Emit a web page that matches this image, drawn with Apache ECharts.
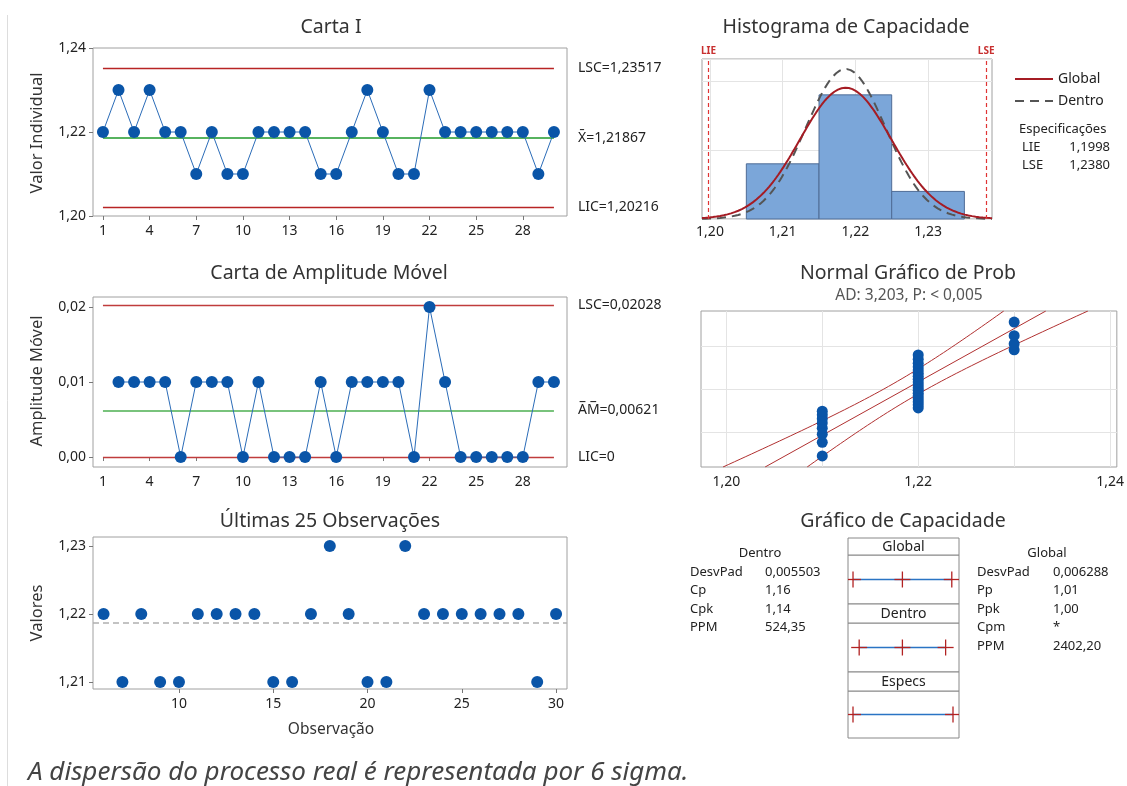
<!DOCTYPE html>
<html><head><meta charset="utf-8">
<script src="https://cdn.jsdelivr.net/npm/echarts@6/dist/echarts.min.js"></script>
<style>html,body{margin:0;padding:0;background:#fff}#c{width:1127px;height:786px}</style>
</head><body><div id="c"></div>
<script>
// ---------------- DATA ----------------
const observations = [1,2,3,4,5,6,7,8,9,10,11,12,13,14,15,16,17,18,19,20,21,22,23,24,25,26,27,28,29,30];
const individualValues = [1.22,1.23,1.22,1.23,1.22,1.22,1.21,1.22,1.21,1.21,1.22,1.22,1.22,1.22,1.21,1.21,1.22,1.23,1.22,1.21,1.21,1.23,1.22,1.22,1.22,1.22,1.22,1.22,1.21,1.22];
const movingRanges = [0.01,0.01,0.01,0.01,0,0.01,0.01,0.01,0,0.01,0,0,0,0.01,0,0.01,0.01,0.01,0.01,0,0.02,0.01,0,0,0,0,0,0.01,0.01]; // obs 2..30
const iLimits = {LSC:1.23517, mean:1.21867, LIC:1.20216};
const mrLimits = {LSC:0.02028, mean:0.00621, LIC:0};
const specLIE = 1.1998, specLSE = 1.2380;
const sigmaWithin = 0.005503, sigmaOverall = 0.006288, nObs = 30;
const binStarts = [1.205,1.215,1.225];
const binEnds = [1.215,1.225,1.235];
const binCounts = [8,18,4];
const normalScores = [-1.995,-1.590,-1.348,-1.167,-1.017,-0.887,-0.771,-0.664,-0.565,-0.470,-0.380,-0.293,-0.207,-0.124,-0.041,0.041,0.124,0.207,0.293,0.380,0.470,0.565,0.664,0.771,0.887,1.017,1.167,1.348,1.590,1.995];
const iTicks = [1,4,7,10,13,16,19,22,25,28];
const last25Ticks = [10,15,20,25,30];
const withinStats = [['DesvPad','0,005503'],['Cp','1,16'],['Cpk','1,14'],['PPM','524,35']];
const overallStats = [['DesvPad','0,006288'],['Pp','1,01'],['Ppk','1,00'],['Cpm','*'],['PPM','2402,20']];

// ---------------- STYLE ----------------
const FONT = "'Noto Sans','Open Sans',sans-serif";
const DOT = '#0a55a8', LINEB = '#2b6cb8', RED = '#b82424', GREEN = '#1f9a2a', BORDER = '#a0a0a0', TXT = '#222';
const fmt2 = v => v.toFixed(2).replace('.', ',');

function txt(x, y, text, o) {
  o = o || {};
  return {type:'text', x:x, y:y, rotation:o.rot||0, silent:true,
    style:{text:text, fill:o.color||TXT, fontSize:o.size||13, fontFamily:FONT, fontStyle:o.style||'normal',
      fontWeight:o.weight||'normal', textAlign:o.align||'left', align:o.align||'left',
      textVerticalAlign:'middle', verticalAlign:'middle'}};
}

// derived series data
const iData = observations.map((o,i)=>[o, individualValues[i]]);
const mrData = movingRanges.map((v,i)=>[observations[i+1], v]);
const last25 = iData.slice(5);
const sortedVals = individualValues.slice().sort((a,b)=>a-b);
const probData = sortedVals.map((v,i)=>[v, normalScores[i]]);
const histBars = binStarts.map((s,i)=>[s, binEnds[i], binCounts[i]]);

const hxMin = 1.1989, hxMax = 1.2388, hyMax = 23.2;
const l25Min = 5.44, l25Max = 30.58;
function normCurve(sigma){
  const pts = [];
  for (let k=0;k<=160;k++){
    const x = hxMin + (hxMax-hxMin)*k/160;
    const d = Math.exp(-0.5*Math.pow((x-iLimits.mean)/sigma,2))/(sigma*Math.sqrt(2*Math.PI));
    pts.push([x, d*nObs*0.01]);
  }
  return pts;
}
const zEdge = 2.3263;
const fitLine = [[iLimits.mean - zEdge*sigmaOverall, -zEdge],[iLimits.mean + zEdge*sigmaOverall, zEdge]];
function band(sign){
  const pts=[];
  for (let k=0;k<=60;k++){
    const z = -zEdge + 2*zEdge*k/60;
    const se = sigmaOverall*Math.sqrt(1/nObs + z*z/(2*(nObs-1)));
    pts.push([iLimits.mean + z*sigmaOverall + sign*1.96*se, z]);
  }
  return pts;
}
const capRows = [
  [iLimits.mean-3*sigmaOverall, iLimits.mean, iLimits.mean+3*sigmaOverall, 1],
  [iLimits.mean-3*sigmaWithin, iLimits.mean, iLimits.mean+3*sigmaWithin, 1],
  [specLIE, (specLIE+specLSE)/2, specLSE, 0]
];

function capItem(params, api){
  const cs = params.coordSys;
  const lo = api.coord([api.value(0), 0.5]), hi = api.coord([api.value(2), 0.5]);
  const els = [{type:'line', shape:{x1:lo[0],y1:lo[1],x2:hi[0],y2:hi[1]}, style:{stroke:'#2a74c4', lineWidth:1.5}}];
  const vals = [api.value(0), api.value(2)];
  if (api.value(3) === 1) vals.push(api.value(1));
  vals.forEach(v=>{
    const p = api.coord([v,0.5]);
    els.push({type:'line', shape:{x1:Math.max(cs.x,p[0]-8), y1:p[1], x2:Math.min(cs.x+cs.width,p[0]+8), y2:p[1]}, style:{stroke:'#b22222', lineWidth:1.3}});
    els.push({type:'line', shape:{x1:p[0], y1:p[1]-8, x2:p[0], y2:p[1]+8}, style:{stroke:'#b22222', lineWidth:1.3}});
  });
  return {type:'group', children:els};
}

const axLabel = {color:TXT, fontSize:14, fontFamily:FONT};
const tick = {show:true, length:4, lineStyle:{color:'#777'}};
const noAxis = {show:false};

const mlLabel = (txtS) => ({show:true, position:'end', distance:24, formatter:txtS, color:TXT, fontSize:14, fontFamily:FONT, padding:[0,0,5,0]});

const option = {
  animation:false,
  backgroundColor:'#fff',
  textStyle:{fontFamily:FONT},
  legend:{data:['Global','Dentro'], orient:'vertical', left:1009, top:67, itemWidth:38, itemHeight:12, itemGap:8,
    itemStyle:{opacity:0},
    textStyle:{color:TXT, fontSize:14, fontFamily:FONT}, selectedMode:false},
  grid:[
    {left:93, top:48, width:474, height:168, show:true, borderColor:BORDER, borderWidth:1},
    {left:93, top:297, width:474, height:170, show:true, borderColor:BORDER, borderWidth:1},
    {left:93, top:537, width:474, height:152, show:true, borderColor:BORDER, borderWidth:1},
    {left:702, top:59, width:290, height:160, show:true, borderColor:BORDER, borderWidth:1},
    {left:701, top:311, width:416, height:156, show:true, borderColor:BORDER, borderWidth:1},
    {left:848, top:555, width:111, height:49, show:true, borderColor:'#888', borderWidth:1},
    {left:848, top:623, width:111, height:49, show:true, borderColor:'#888', borderWidth:1},
    {left:848, top:691, width:111, height:47, show:true, borderColor:'#888', borderWidth:1}
  ],
  xAxis:[
    {gridIndex:0, type:'value', min:0.36, max:30.84, axisLine:noAxis, splitLine:noAxis,
      axisTick:Object.assign({customValues:iTicks}, tick), axisLabel:Object.assign({customValues:iTicks, margin:8}, axLabel)},
    {gridIndex:1, type:'value', min:0.36, max:30.84, axisLine:noAxis, splitLine:noAxis,
      axisTick:Object.assign({customValues:iTicks}, tick), axisLabel:Object.assign({customValues:iTicks, margin:8}, axLabel)},
    {gridIndex:2, type:'value', min:l25Min, max:l25Max, axisLine:noAxis, splitLine:noAxis,
      axisTick:Object.assign({customValues:last25Ticks}, tick), axisLabel:Object.assign({customValues:last25Ticks, margin:8}, axLabel)},
    {gridIndex:3, type:'value', min:hxMin, max:hxMax, axisLine:noAxis,
      splitLine:{show:true, lineStyle:{color:'#e4e4e4'}},
      axisTick:{show:false, customValues:[1.20,1.21,1.22,1.23]},
      axisLabel:Object.assign({customValues:[1.20,1.21,1.22,1.23], margin:6, formatter:fmt2}, axLabel)},
    {gridIndex:4, type:'value', min:1.19736, max:1.2407, axisLine:noAxis,
      splitLine:{show:true, lineStyle:{color:'#e4e4e4'}},
      axisTick:{show:false, customValues:[1.20,1.21,1.22,1.23,1.24]},
      axisLabel:Object.assign({customValues:[1.20,1.22,1.24], margin:8, formatter:fmt2}, axLabel)},
    {gridIndex:5, type:'value', min:1.19789, max:1.24029, show:false},
    {gridIndex:6, type:'value', min:1.19789, max:1.24029, show:false},
    {gridIndex:7, type:'value', min:1.19789, max:1.24029, show:false}
  ],
  yAxis:[
    {gridIndex:0, type:'value', min:1.20, max:1.24, interval:0.02, axisLine:noAxis, splitLine:noAxis,
      axisTick:tick, axisLabel:Object.assign({margin:7, formatter:fmt2}, axLabel)},
    {gridIndex:1, type:'value', min:-0.00133, max:0.02133, axisLine:noAxis, splitLine:noAxis,
      axisTick:Object.assign({customValues:[0,0.01,0.02]}, tick),
      axisLabel:Object.assign({customValues:[0,0.01,0.02], margin:7, formatter:fmt2}, axLabel)},
    {gridIndex:2, type:'value', min:1.20897, max:1.23132, axisLine:noAxis, splitLine:noAxis,
      axisTick:Object.assign({customValues:[1.21,1.22,1.23]}, tick),
      axisLabel:Object.assign({customValues:[1.21,1.22,1.23], margin:7, formatter:fmt2}, axLabel)},
    {gridIndex:3, type:'value', min:0, max:hyMax, interval:10, axisLine:noAxis, axisTick:noAxis, axisLabel:noAxis,
      splitLine:{show:true, lineStyle:{color:'#e4e4e4'}}},
    {gridIndex:4, type:'value', min:-zEdge, max:zEdge, axisLine:noAxis, axisLabel:noAxis,
      axisTick:{show:false, customValues:[-1.2816,0,1.2816]},
      splitLine:{show:true, lineStyle:{color:'#e4e4e4'}}},
    {gridIndex:5, type:'value', min:0, max:1, show:false},
    {gridIndex:6, type:'value', min:0, max:1, show:false},
    {gridIndex:7, type:'value', min:0, max:1, show:false}
  ],
  series:[
    {type:'line', xAxisIndex:0, yAxisIndex:0, data:iData, symbol:'circle', symbolSize:12,
      itemStyle:{color:DOT, opacity:1}, lineStyle:{color:LINEB, width:1}, z:5,
      markLine:{silent:true, symbol:['none','none'], animation:false,
        data:[
          [{coord:[1,iLimits.LSC], lineStyle:{color:RED,width:1.3,type:'solid'}, label:mlLabel('LSC=1,23517')},{coord:[30,iLimits.LSC]}],
          [{coord:[1,iLimits.mean], lineStyle:{color:GREEN,width:1.5,type:'solid'}, label:mlLabel('X\u0304=1,21867')},{coord:[30,iLimits.mean]}],
          [{coord:[1,iLimits.LIC], lineStyle:{color:RED,width:1.3,type:'solid'}, label:mlLabel('LIC=1,20216')},{coord:[30,iLimits.LIC]}]
        ]}},
    {type:'line', xAxisIndex:1, yAxisIndex:1, data:mrData, symbol:'circle', symbolSize:12,
      itemStyle:{color:DOT, opacity:1}, lineStyle:{color:LINEB, width:1}, z:5,
      markLine:{silent:true, symbol:['none','none'], animation:false,
        data:[
          [{coord:[1,mrLimits.LSC], lineStyle:{color:'#c03c3c',width:1.3,type:'solid'}, label:mlLabel('LSC=0,02028')},{coord:[30,mrLimits.LSC]}],
          [{coord:[1,mrLimits.mean], lineStyle:{color:'#4caf50',width:1.5,type:'solid'}, label:mlLabel('A\u0305M\u0305=0,00621')},{coord:[30,mrLimits.mean]}],
          [{coord:[1,mrLimits.LIC], lineStyle:{color:'#c03c3c',width:1.3,type:'solid'}, label:mlLabel('LIC=0')},{coord:[30,mrLimits.LIC]}]
        ]}},
    {type:'scatter', xAxisIndex:2, yAxisIndex:2, data:last25, symbol:'circle', symbolSize:12, itemStyle:{color:DOT, opacity:1}, z:5,
      markLine:{silent:true, symbol:['none','none'], animation:false, label:{show:false},
        lineStyle:{color:'#b0b0b0', type:[6,4], width:1.5},
        data:[[{coord:[l25Min, iLimits.mean]},{coord:[l25Max, iLimits.mean]}]]}},
    {type:'custom', xAxisIndex:3, yAxisIndex:3, data:histBars, encode:{x:[0,1], y:2}, z:2,
      renderItem:function(params, api){
        const p0 = api.coord([api.value(0), api.value(2)]);
        const p1 = api.coord([api.value(1), 0]);
        return {type:'rect', shape:{x:p0[0], y:p0[1], width:p1[0]-p0[0], height:p1[1]-p0[1]},
          style:{fill:'#7ba6d9', stroke:'#4f6c96', lineWidth:1}};
      }},
    {name:'Global', type:'line', xAxisIndex:3, yAxisIndex:3, data:normCurve(sigmaOverall), symbol:'none', smooth:false,
      lineStyle:{color:'#a51c24', width:2}, itemStyle:{color:'#a51c24'}, z:4,
      markLine:{silent:true, symbol:['none','none'], animation:false,
        lineStyle:{color:'#e03434', type:[4,3], width:1.2},
        label:{show:true, position:'end', distance:3, color:'#c83030', fontSize:10, fontWeight:'bold', fontFamily:FONT},
        data:[
          [{coord:[specLIE,0], label:{formatter:'LIE'}},{coord:[specLIE,hyMax]}],
          [{coord:[specLSE,0], label:{formatter:'LSE'}},{coord:[specLSE,hyMax]}]
        ]}},
    {name:'Dentro', type:'line', xAxisIndex:3, yAxisIndex:3, data:normCurve(sigmaWithin), symbol:'none', smooth:false,
      lineStyle:{color:'#555555', width:2, type:[9,6]}, itemStyle:{color:'#555555'}, z:3},
    {type:'line', xAxisIndex:4, yAxisIndex:4, data:fitLine, symbol:'none', lineStyle:{color:'#b03030', width:1}, z:3},
    {type:'line', xAxisIndex:4, yAxisIndex:4, data:band(-1), symbol:'none', lineStyle:{color:'#b03030', width:1}, z:3},
    {type:'line', xAxisIndex:4, yAxisIndex:4, data:band(1), symbol:'none', lineStyle:{color:'#b03030', width:1}, z:3},
    {type:'scatter', xAxisIndex:4, yAxisIndex:4, data:probData, symbol:'circle', symbolSize:11, itemStyle:{color:DOT, opacity:1}, z:5},
    {type:'custom', xAxisIndex:5, yAxisIndex:5, data:[capRows[0]], renderItem:capItem, z:4},
    {type:'custom', xAxisIndex:6, yAxisIndex:6, data:[capRows[1]], renderItem:capItem, z:4},
    {type:'custom', xAxisIndex:7, yAxisIndex:7, data:[capRows[2]], renderItem:capItem, z:4}
  ],
  graphic:{elements:(function(){
    const g = [];
    g.push({type:'line', silent:true, shape:{x1:7.5,y1:15,x2:7.5,y2:786}, style:{stroke:'#dddddd', lineWidth:1}});
    // titles
    const TS = 19.5, TC = '#333';
    g.push(txt(331,27,'Carta I',{size:TS,color:TC,align:'center'}));
    g.push(txt(846,27,'Histograma de Capacidade',{size:TS,color:TC,align:'center'}));
    g.push(txt(329,273,'Carta de Amplitude Móvel',{size:TS,color:TC,align:'center'}));
    g.push(txt(908,273,'Normal Gráfico de Prob',{size:TS,color:TC,align:'center'}));
    g.push(txt(909,296,'AD: 3,203, P: < 0,005',{size:15.5,color:'#555',align:'center'}));
    g.push(txt(330,521,'Últimas 25 Observações',{size:TS,color:TC,align:'center'}));
    g.push(txt(903,521,'Gráfico de Capacidade',{size:TS,color:TC,align:'center'}));
    // axis names
    g.push(txt(37,133,'Valor Individual',{size:16.5,color:'#333',align:'center',rot:Math.PI/2}));
    g.push(txt(37,381,'Amplitude Móvel',{size:16.5,color:'#333',align:'center',rot:Math.PI/2}));
    g.push(txt(37,613,'Valores',{size:16.5,color:'#333',align:'center',rot:Math.PI/2}));
    g.push(txt(331,730,'Observação',{size:15.5,color:'#333',align:'center'}));
    // specifications
    g.push(txt(1019,129,'Especificações',{size:13}));
    g.push(txt(1022,147,'LIE',{size:13}));
    g.push(txt(1110,147,'1,1998',{size:13,align:'right'}));
    g.push(txt(1022,165,'LSE',{size:13}));
    g.push(txt(1110,165,'1,2380',{size:13,align:'right'}));
    // capability tables
    g.push(txt(760,553,'Dentro',{size:13,align:'center'}));
    withinStats.forEach((r,i)=>{ const y = 572 + i*18.5; g.push(txt(690,y,r[0],{size:13})); g.push(txt(765,y,r[1],{size:13})); });
    g.push(txt(1047,553,'Global',{size:13,align:'center'}));
    overallStats.forEach((r,i)=>{ const y = 572 + i*18.5; g.push(txt(977,y,r[0],{size:13})); g.push(txt(1053,y,r[1],{size:13})); });
    // capability headers
    [[538,17,'Global'],[604,19,'Dentro'],[672,19,'Especs']].forEach(h=>{
      g.push({type:'rect', silent:true, shape:{x:848,y:h[0],width:111,height:h[1]}, style:{fill:'#fff',stroke:'#888',lineWidth:1}});
      g.push(txt(903.5,h[0]+h[1]/2+1,h[2],{size:14,align:'center'}));
    });
    g.push(txt(28,773,'A dispersão do processo real é representada por 6 sigma.',{size:26,color:'#444',style:'italic'}));
    return g;
  })()}
};
const chart = echarts.init(document.getElementById('c'), null, {renderer:'canvas'});
chart.setOption(option);
</script></body></html>
